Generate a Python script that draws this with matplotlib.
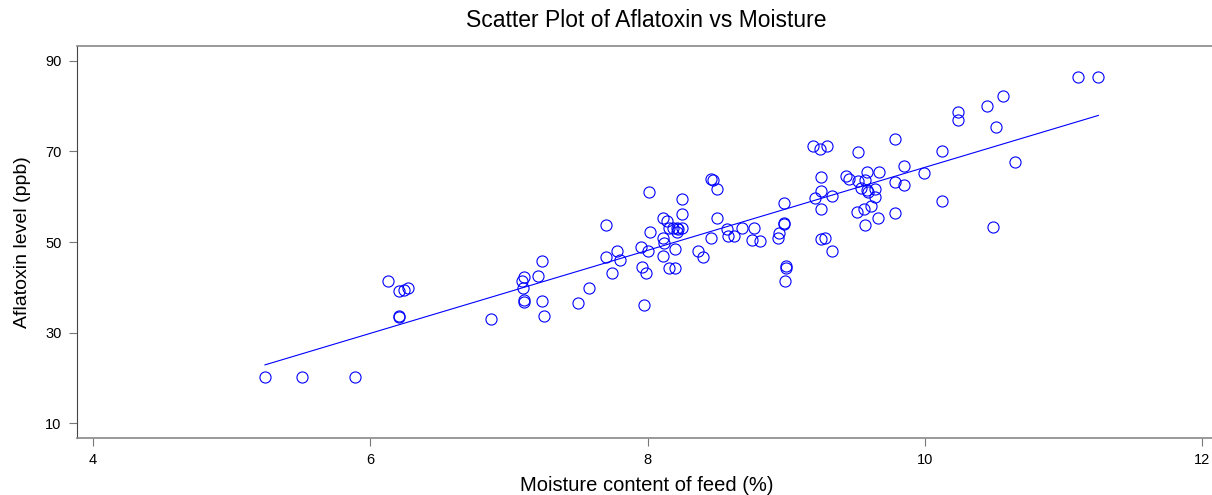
import numpy as np
import matplotlib
matplotlib.use("Agg")
import matplotlib.pyplot as plt

# moisture content (%) and aflatoxin level (ppb)
moisture = [5.24, 5.51, 5.89, 6.13, 6.21, 6.24, 6.27, 6.21, 6.21, 6.87,
            7.11, 7.09, 7.10, 7.11, 7.11, 7.21, 7.24, 7.24, 7.25, 7.50,
            7.58, 7.70, 7.70, 7.74, 7.78, 7.80, 7.95, 7.96, 7.97, 7.99,
            8.00, 8.01, 8.02, 8.11, 8.14, 8.11, 8.12, 8.11, 8.15, 8.18,
            8.21, 8.22, 8.25, 8.21, 8.15, 8.20, 8.20, 8.25, 8.25, 8.36,
            8.40, 8.46, 8.47, 8.50, 8.50, 8.46, 8.57, 8.58, 8.62, 8.68,
            8.75, 8.77, 8.81, 8.98, 8.98, 8.98, 8.95, 8.94, 9.00, 9.00,
            8.99, 9.19, 9.24, 9.29, 9.21, 9.25, 9.25, 9.25, 9.25, 9.28,
            9.33, 9.33, 9.43, 9.45, 9.52, 9.52, 9.57, 9.58, 9.54, 9.58,
            9.59, 9.64, 9.64, 9.61, 9.56, 9.51, 9.57, 9.67, 9.66, 9.78,
            9.78, 9.78, 9.85, 9.85, 9.99, 10.12, 10.12, 10.24, 10.24, 10.45,
            10.49, 10.51, 10.56, 10.65, 11.10, 11.25]
aflatoxin = [20.2, 20.2, 20.1, 41.4, 39.2, 39.5, 39.8, 33.6, 33.4, 33.0,
             42.3, 41.4, 39.8, 37.2, 36.7, 42.5, 45.8, 37.0, 33.6, 36.6,
             39.9, 53.8, 46.8, 43.2, 48.1, 46.0, 48.8, 44.5, 36.2, 43.2,
             48.1, 61.0, 52.3, 55.2, 54.7, 50.8, 49.7, 47.0, 53.0, 53.0,
             53.0, 52.8, 53.0, 52.3, 44.3, 44.3, 48.4, 59.5, 56.3, 48.0,
             46.6, 64.0, 63.7, 61.8, 55.4, 50.9, 52.9, 51.4, 51.4, 53.2,
             50.4, 53.1, 50.3, 58.6, 54.3, 53.9, 51.9, 50.8, 44.6, 44.3,
             41.4, 71.3, 70.5, 71.3, 59.8, 64.4, 61.3, 57.3, 50.6, 50.8,
             60.2, 48.1, 64.6, 63.9, 69.8, 63.5, 63.7, 65.5, 61.9, 61.5,
             61.1, 61.7, 60.0, 58.0, 57.3, 56.7, 53.8, 65.5, 55.2, 72.7,
             63.3, 56.5, 66.8, 62.6, 65.3, 70.2, 59.1, 78.7, 77.0, 80.1,
             53.4, 75.5, 82.3, 67.7, 86.4, 86.4]

x_ticks = [4, 6, 8, 10, 12]
y_ticks = [10, 30, 50, 70, 90]

plt.rcParams['font.family'] = ['Liberation Sans', 'DejaVu Sans']

fig = plt.figure(figsize=(12.12, 4.95), dpi=100)
ax = fig.add_axes([0.0635, 0.115, 0.94, 0.793])

x = np.array(moisture)
y = np.array(aflatoxin)
ax.plot(x, y, 'o', ls='none', ms=8, mfc='none', mec='#0000FF', mew=0.8)

# least squares line over the data range
b, a = np.polyfit(x, y, 1)
xs = np.array([x.min(), x.max()])
ax.plot(xs, a + b * xs, color='#0000FF', lw=0.8)

ax.set_xlim(3.884, 12.1)
ax.set_ylim(6.7, 93.4)
ax.set_xticks(x_ticks)
ax.set_yticks(y_ticks)
ax.tick_params(length=6, width=0.8, color='#777777', labelsize=10.5, pad=5)
for side in ['top', 'bottom']:
    ax.spines[side].set_color('#888888')
    ax.spines[side].set_linewidth(1.2)
ax.spines['left'].set_color('#444444')
ax.spines['right'].set_visible(False)

ax.set_title('Scatter Plot of Aflatoxin vs Moisture', fontsize=16.5, pad=13)
ax.set_xlabel('Moisture content of feed (%)', fontsize=14.5, labelpad=6)
ax.set_ylabel('Aflatoxin level (ppb)', fontsize=14, labelpad=10)

fig.savefig('out.png', dpi=100)
